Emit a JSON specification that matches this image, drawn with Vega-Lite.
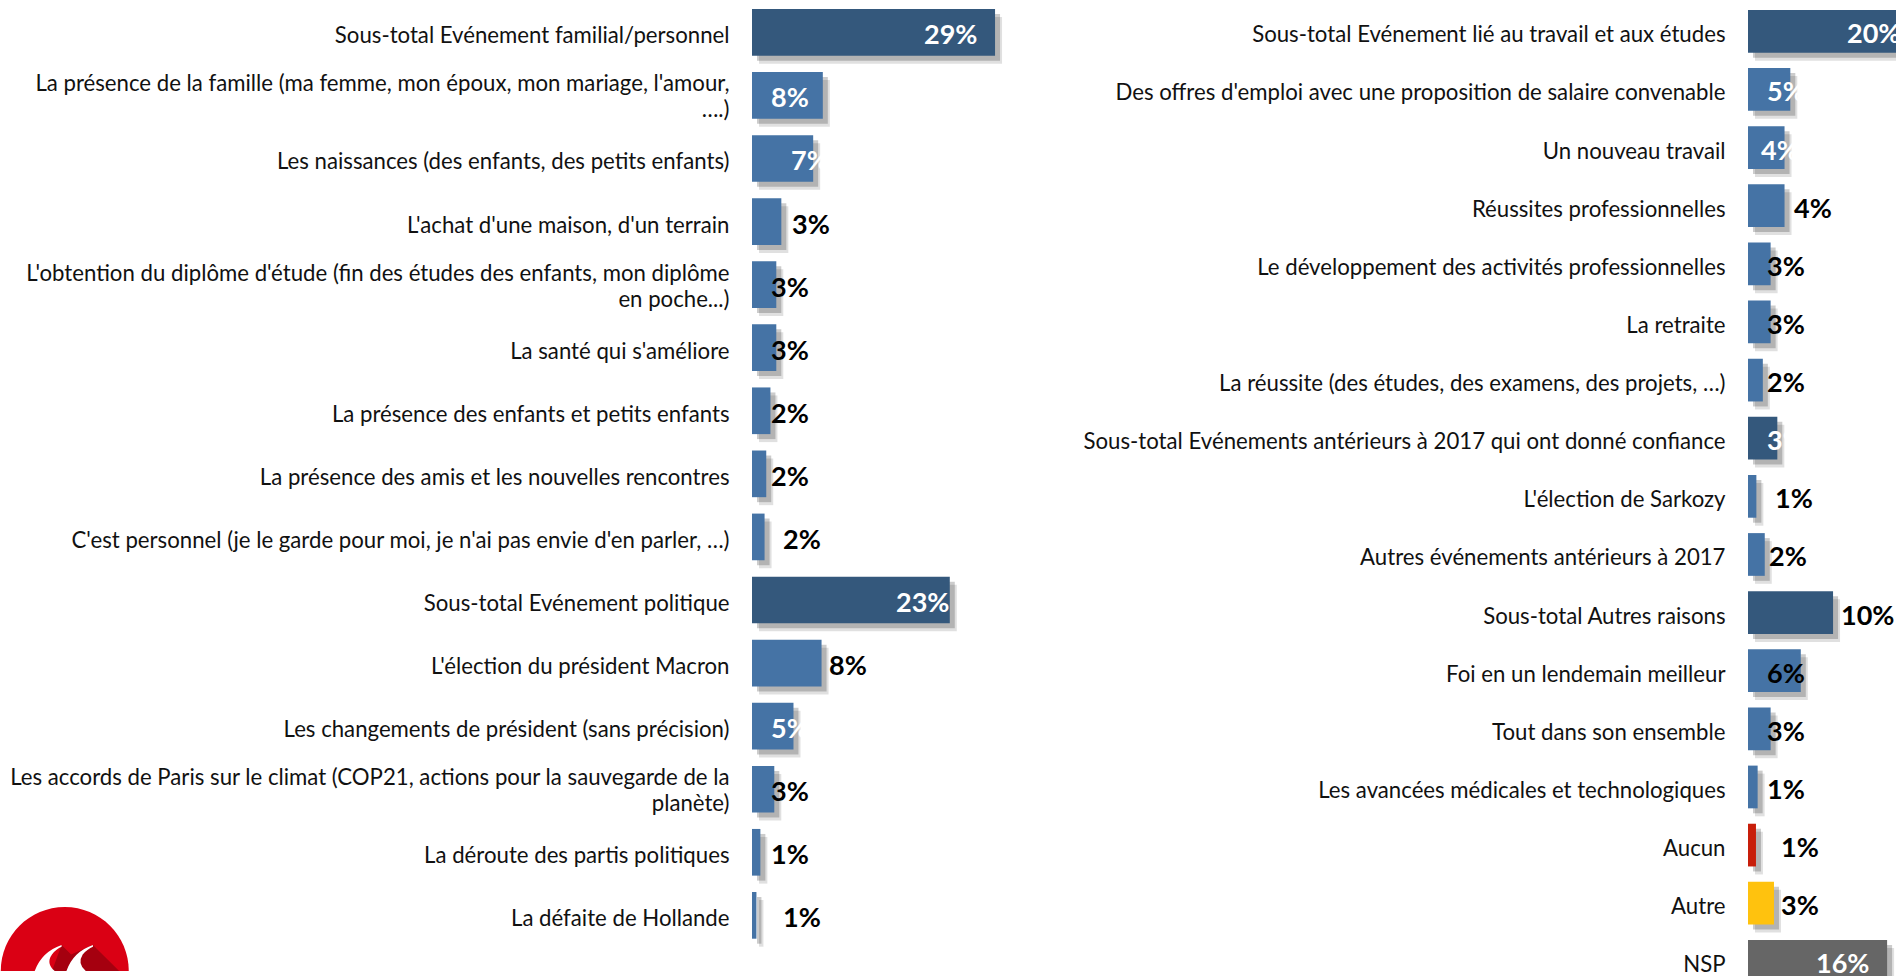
{
"$schema":"https://vega.github.io/schema/vega-lite/v6.json",
"background":"white",
"padding":{"left":0,"top":0,"right":0,"bottom":0},
"bounds":"flush",
"spacing":746,
"config":{"view":{"stroke":null},"text":{"font":"Lato","fontWeight":"bold","fontSize":27,"baseline":"middle","align":"left","dy":4}},
"datasets":{
"left":[
{"name":"Sous-total Evénement familial/personnel","share":29,"pct":"29%","kind":"subtotal"},
{"name":"La présence de la famille (ma femme, mon époux, mon mariage, l'amour,|….)","share":8.45,"pct":"8%","kind":"item"},
{"name":"Les naissances (des enfants, des petits enfants)","share":7.3,"pct":"7%","kind":"item"},
{"name":"L'achat d'une maison, d'un terrain","share":3.5,"pct":"3%","kind":"item"},
{"name":"L'obtention du diplôme d'étude (fin des études des enfants, mon diplôme|en poche...)","share":2.9,"pct":"3%","kind":"item"},
{"name":"La santé qui s'améliore","share":2.9,"pct":"3%","kind":"item"},
{"name":"La présence des enfants et petits enfants","share":2.2,"pct":"2%","kind":"item"},
{"name":"La présence des amis et les nouvelles rencontres","share":1.7,"pct":"2%","kind":"item"},
{"name":"C'est personnel (je le garde pour moi, je n'ai pas envie d'en parler, …)","share":1.5,"pct":"2%","kind":"item"},
{"name":"Sous-total Evénement politique","share":23.6,"pct":"23%","kind":"subtotal"},
{"name":"L'élection du président Macron","share":8.3,"pct":"8%","kind":"item"},
{"name":"Les changements de président (sans précision)","share":4.95,"pct":"5%","kind":"item"},
{"name":"Les accords de Paris sur le climat (COP21, actions pour la sauvegarde de la|planète)","share":2.66,"pct":"3%","kind":"item"},
{"name":"La déroute des partis politiques","share":1.0,"pct":"1%","kind":"item"},
{"name":"La défaite de Hollande","share":0.53,"pct":"1%","kind":"item"}
],
"right":[
{"name":"Sous-total Evénement lié au travail et aux études","share":20,"pct":"20%","kind":"subtotal"},
{"name":"Des offres d'emploi avec une proposition de salaire convenable","share":5.05,"pct":"5%","kind":"item"},
{"name":"Un nouveau travail","share":4.36,"pct":"4%","kind":"item"},
{"name":"Réussites professionnelles","share":4.36,"pct":"4%","kind":"item"},
{"name":"Le développement des activités professionnelles","share":2.7,"pct":"3%","kind":"item"},
{"name":"La retraite","share":2.7,"pct":"3%","kind":"item"},
{"name":"La réussite (des études, des examens, des projets, …)","share":1.77,"pct":"2%","kind":"item"},
{"name":"Sous-total Evénements antérieurs à 2017 qui ont donné confiance","share":3.5,"pct":"3%","kind":"subtotal"},
{"name":"L'élection de Sarkozy","share":1.0,"pct":"1%","kind":"item"},
{"name":"Autres événements antérieurs à 2017","share":2.0,"pct":"2%","kind":"item"},
{"name":"Sous-total Autres raisons","share":10.15,"pct":"10%","kind":"subtotal"},
{"name":"Foi en un lendemain meilleur","share":6.3,"pct":"6%","kind":"item"},
{"name":"Tout dans son ensemble","share":2.7,"pct":"3%","kind":"item"},
{"name":"Les avancées médicales et technologiques","share":1.15,"pct":"1%","kind":"item"},
{"name":"Aucun","share":0.95,"pct":"1%","kind":"aucun"},
{"name":"Autre","share":3.1,"pct":"3%","kind":"autre"},
{"name":"NSP","share":16.6,"pct":"16%","kind":"nsp"}
]},
"hconcat":[
{"width":250,"height":976,"data":{"name":"left"},
"encoding":{"y":{"field":"name","type":"nominal","sort":null,"title":null,
"scale":{"range":[9,938.7],"paddingInner":0.26,"paddingOuter":0},
"axis":{"domain":false,"ticks":false,"grid":false,"labelPadding":23,"labelLimit":800,"labelFont":"Lato","labelFontSize":22.2,"labelColor":"#111111","labelLineHeight":26,"labelOffset":{"expr":"indexof(datum.label,'|')>=0 ? -11 : 4"},"labelExpr":"split(datum.label,'|')"}}},
"layer":[
{"mark":{"type":"bar","color":"#000000","opacity":0.12},"encoding":{"x":{"field":"share","type":"quantitative","title":null,"axis":null,"scale":{"domain":[0,29.83],"nice":false}},"xOffset":{"value":7},"yOffset":{"value":8}}},
{"mark":{"type":"bar","color":"#000000","opacity":0.2},"encoding":{"x":{"field":"share","type":"quantitative"},"xOffset":{"value":5},"yOffset":{"value":5}}},
{"mark":{"type":"bar"},"encoding":{"x":{"field":"share","type":"quantitative"},"color":{"field":"kind","type":"nominal","legend":null,"scale":{"domain":["subtotal","item","aucun","autre","nsp"],"range":["#34587C","#4573A5","#C81E0A","#FFC20E","#666666"]}}}},
{"transform":[{"filter":{"field":"name","oneOf":["La présence de la famille (ma femme, mon époux, mon mariage, l'amour,|….)","Les changements de président (sans précision)"]}}],"mark":{"type":"text","color":"white","dx":19},"encoding":{"x":{"datum":0},"text":{"field":"pct"}}},
{"transform":[{"filter":{"field":"name","equal":"Les naissances (des enfants, des petits enfants)"}}],"mark":{"type":"text","color":"white","dx":39},"encoding":{"x":{"datum":0},"text":{"field":"pct"}}},
{"transform":[{"filter":{"field":"name","equal":"Sous-total Evénement politique"}}],"mark":{"type":"text","color":"white","dx":144},"encoding":{"x":{"datum":0},"text":{"field":"pct"}}},
{"transform":[{"filter":{"field":"name","equal":"Sous-total Evénement familial/personnel"}}],"mark":{"type":"text","color":"white","dx":172},"encoding":{"x":{"datum":0},"text":{"field":"pct"}}},
{"transform":[{"filter":{"field":"name","oneOf":["L'obtention du diplôme d'étude (fin des études des enfants, mon diplôme|en poche...)","La santé qui s'améliore","La présence des enfants et petits enfants","La présence des amis et les nouvelles rencontres","Les accords de Paris sur le climat (COP21, actions pour la sauvegarde de la|planète)","La déroute des partis politiques"]}}],"mark":{"type":"text","color":"black","dx":19},"encoding":{"x":{"datum":0},"text":{"field":"pct"}}},
{"transform":[{"filter":{"field":"name","equal":"L'achat d'une maison, d'un terrain"}}],"mark":{"type":"text","color":"black","dx":40},"encoding":{"x":{"datum":0},"text":{"field":"pct"}}},
{"transform":[{"filter":{"field":"name","oneOf":["C'est personnel (je le garde pour moi, je n'ai pas envie d'en parler, …)","La défaite de Hollande"]}}],"mark":{"type":"text","color":"black","dx":31},"encoding":{"x":{"datum":0},"text":{"field":"pct"}}},
{"transform":[{"filter":{"field":"name","equal":"L'élection du président Macron"}}],"mark":{"type":"text","color":"black","dx":77},"encoding":{"x":{"datum":0},"text":{"field":"pct"}}},
{"transform":[{"filter":{"field":"name","equal":"La défaite de Hollande"}}],"mark":{"type":"point","filled":true,"opacity":1,"color":"#DA0014","size":16384,"shape":"M-1,0 A1,1 0 0 1 1,0 Z"},"encoding":{"x":{"datum":-82},"yOffset":{"value":79}}},
{"transform":[{"filter":{"field":"name","equal":"La défaite de Hollande"}}],"mark":{"type":"point","filled":true,"opacity":1,"color":"#A5000F","size":16384,"shape":"M-0.05,-0.406 L0.1,-0.26 L0.44,-0.406 L0.85,0 L-0.2,0 Z"},"encoding":{"x":{"datum":-82},"yOffset":{"value":79}}},
{"transform":[{"filter":{"field":"name","equal":"La défaite de Hollande"}}],"mark":{"type":"point","filled":true,"opacity":1,"color":"white","size":16384,"shape":"M-0.05,-0.406 Q-0.36,-0.3 -0.47,0 L-0.156,0 Q-0.3,-0.12 -0.2,-0.26 Q-0.13,-0.35 -0.05,-0.38 Z M0.44,-0.406 Q0.13,-0.3 0.026,0 L0.328,0 Q0.19,-0.12 0.28,-0.26 Q0.36,-0.35 0.44,-0.38 Z"},"encoding":{"x":{"datum":-82},"yOffset":{"value":79}}}
]},
{"width":149,"height":976,"data":{"name":"right"},
"encoding":{"y":{"field":"name","type":"nominal","sort":null,"title":null,
"scale":{"range":[10,982.7],"paddingInner":0.265,"paddingOuter":0},
"axis":{"domain":false,"ticks":false,"grid":false,"labelPadding":23,"labelLimit":800,"labelFont":"Lato","labelFontSize":22.2,"labelColor":"#111111","labelOffset":4}}},
"layer":[
{"mark":{"type":"bar","color":"#000000","opacity":0.12,"clip":true},"encoding":{"x":{"field":"share","type":"quantitative","title":null,"axis":null,"scale":{"domain":[0,17.78],"nice":false,"clamp":false}},"xOffset":{"value":7},"yOffset":{"value":8}}},
{"mark":{"type":"bar","color":"#000000","opacity":0.2,"clip":true},"encoding":{"x":{"field":"share","type":"quantitative"},"xOffset":{"value":5},"yOffset":{"value":5}}},
{"mark":{"type":"bar","clip":true},"encoding":{"x":{"field":"share","type":"quantitative"},"color":{"field":"kind","type":"nominal","legend":null,"scale":{"domain":["subtotal","item","aucun","autre","nsp"],"range":["#34587C","#4573A5","#C81E0A","#FFC20E","#666666"]}}}},
{"transform":[{"filter":{"field":"name","oneOf":["Des offres d'emploi avec une proposition de salaire convenable","Sous-total Evénements antérieurs à 2017 qui ont donné confiance"]}}],"mark":{"type":"text","color":"white","dx":19,"clip":true},"encoding":{"x":{"datum":0},"text":{"field":"pct"}}},
{"transform":[{"filter":{"field":"name","equal":"Un nouveau travail"}}],"mark":{"type":"text","color":"white","dx":13,"clip":true},"encoding":{"x":{"datum":0},"text":{"field":"pct"}}},
{"transform":[{"filter":{"field":"name","equal":"Sous-total Evénement lié au travail et aux études"}}],"mark":{"type":"text","color":"white","dx":99,"clip":true},"encoding":{"x":{"datum":0},"text":{"field":"pct"}}},
{"transform":[{"filter":{"field":"name","equal":"NSP"}}],"mark":{"type":"text","color":"white","dx":68,"clip":true},"encoding":{"x":{"datum":0},"text":{"field":"pct"}}},
{"transform":[{"filter":{"field":"name","oneOf":["Le développement des activités professionnelles","La retraite","La réussite (des études, des examens, des projets, …)","Foi en un lendemain meilleur","Tout dans son ensemble","Les avancées médicales et technologiques"]}}],"mark":{"type":"text","color":"black","dx":19,"clip":true},"encoding":{"x":{"datum":0},"text":{"field":"pct"}}},
{"transform":[{"filter":{"field":"name","equal":"Autres événements antérieurs à 2017"}}],"mark":{"type":"text","color":"black","dx":21,"clip":true},"encoding":{"x":{"datum":0},"text":{"field":"pct"}}},
{"transform":[{"filter":{"field":"name","equal":"L'élection de Sarkozy"}}],"mark":{"type":"text","color":"black","dx":27,"clip":true},"encoding":{"x":{"datum":0},"text":{"field":"pct"}}},
{"transform":[{"filter":{"field":"name","oneOf":["Aucun","Autre"]}}],"mark":{"type":"text","color":"black","dx":33,"clip":true},"encoding":{"x":{"datum":0},"text":{"field":"pct"}}},
{"transform":[{"filter":{"field":"name","equal":"Réussites professionnelles"}}],"mark":{"type":"text","color":"black","dx":46,"clip":true},"encoding":{"x":{"datum":0},"text":{"field":"pct"}}},
{"transform":[{"filter":{"field":"name","equal":"Sous-total Autres raisons"}}],"mark":{"type":"text","color":"black","dx":93,"clip":true},"encoding":{"x":{"datum":0},"text":{"field":"pct"}}}
]}
],
"resolve":{"scale":{"x":"independent","y":"independent","color":"independent"}}
}
